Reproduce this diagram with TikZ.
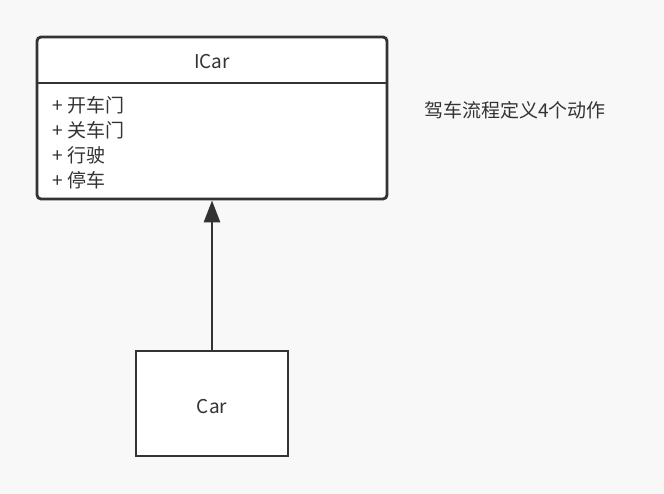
\documentclass[tikz,border=0pt]{standalone}
\usepackage{fontspec}
\setmainfont{Noto Sans CJK SC}
\usetikzlibrary{arrows.meta}
\definecolor{bg}{HTML}{F8F8F8}
\definecolor{ln}{HTML}{333333}
\definecolor{tx}{HTML}{333333}
\newcommand{\plusmark}{+\hspace{5pt}}
\begin{document}
\begin{tikzpicture}[x=1pt,y=-1pt,
  boxline/.style={draw=ln,line width=2.8pt},
  lbl/.style={text=tx,font=\fontsize{19}{21}\selectfont,inner sep=0pt},
  member/.style={lbl,anchor=west}]
\fill[bg] (0,0) rectangle (664,494);
\useasboundingbox (0,0) rectangle (664,494);
% ICar class box
\node[boxline,fill=white,rounded corners=4pt,minimum width=350pt,minimum height=162pt,inner sep=0pt] (icar) at (212,118) {};
\coordinate (divl) at (37,83);
\coordinate (divr) at (387,83);
\draw[ln,line width=2.8pt] (divl) -- (divr);
\node[lbl] (title) at (212,62) {ICar};
\node[member] (m1) at (52,105) {\plusmark 开车门};
\node[member] (m2) at (52,130) {\plusmark 关车门};
\node[member] (m3) at (52,155) {\plusmark 行驶};
\node[member] (m4) at (52,180) {\plusmark 停车};
% Car box
\node[boxline,fill=white,minimum width=152pt,minimum height=105pt,inner sep=0pt] (car) at (212,403.5) {};
\node[lbl] (cartext) at (212,407) {Car};
% note
\node[lbl,anchor=west] (note) at (424,110) {驾车流程定义4个动作};
% generalization arrow
\draw[ln,line width=2.8pt,-{Triangle[length=22pt,width=16pt]}] (car.north) -- (icar.south);
\end{tikzpicture}
\end{document}
